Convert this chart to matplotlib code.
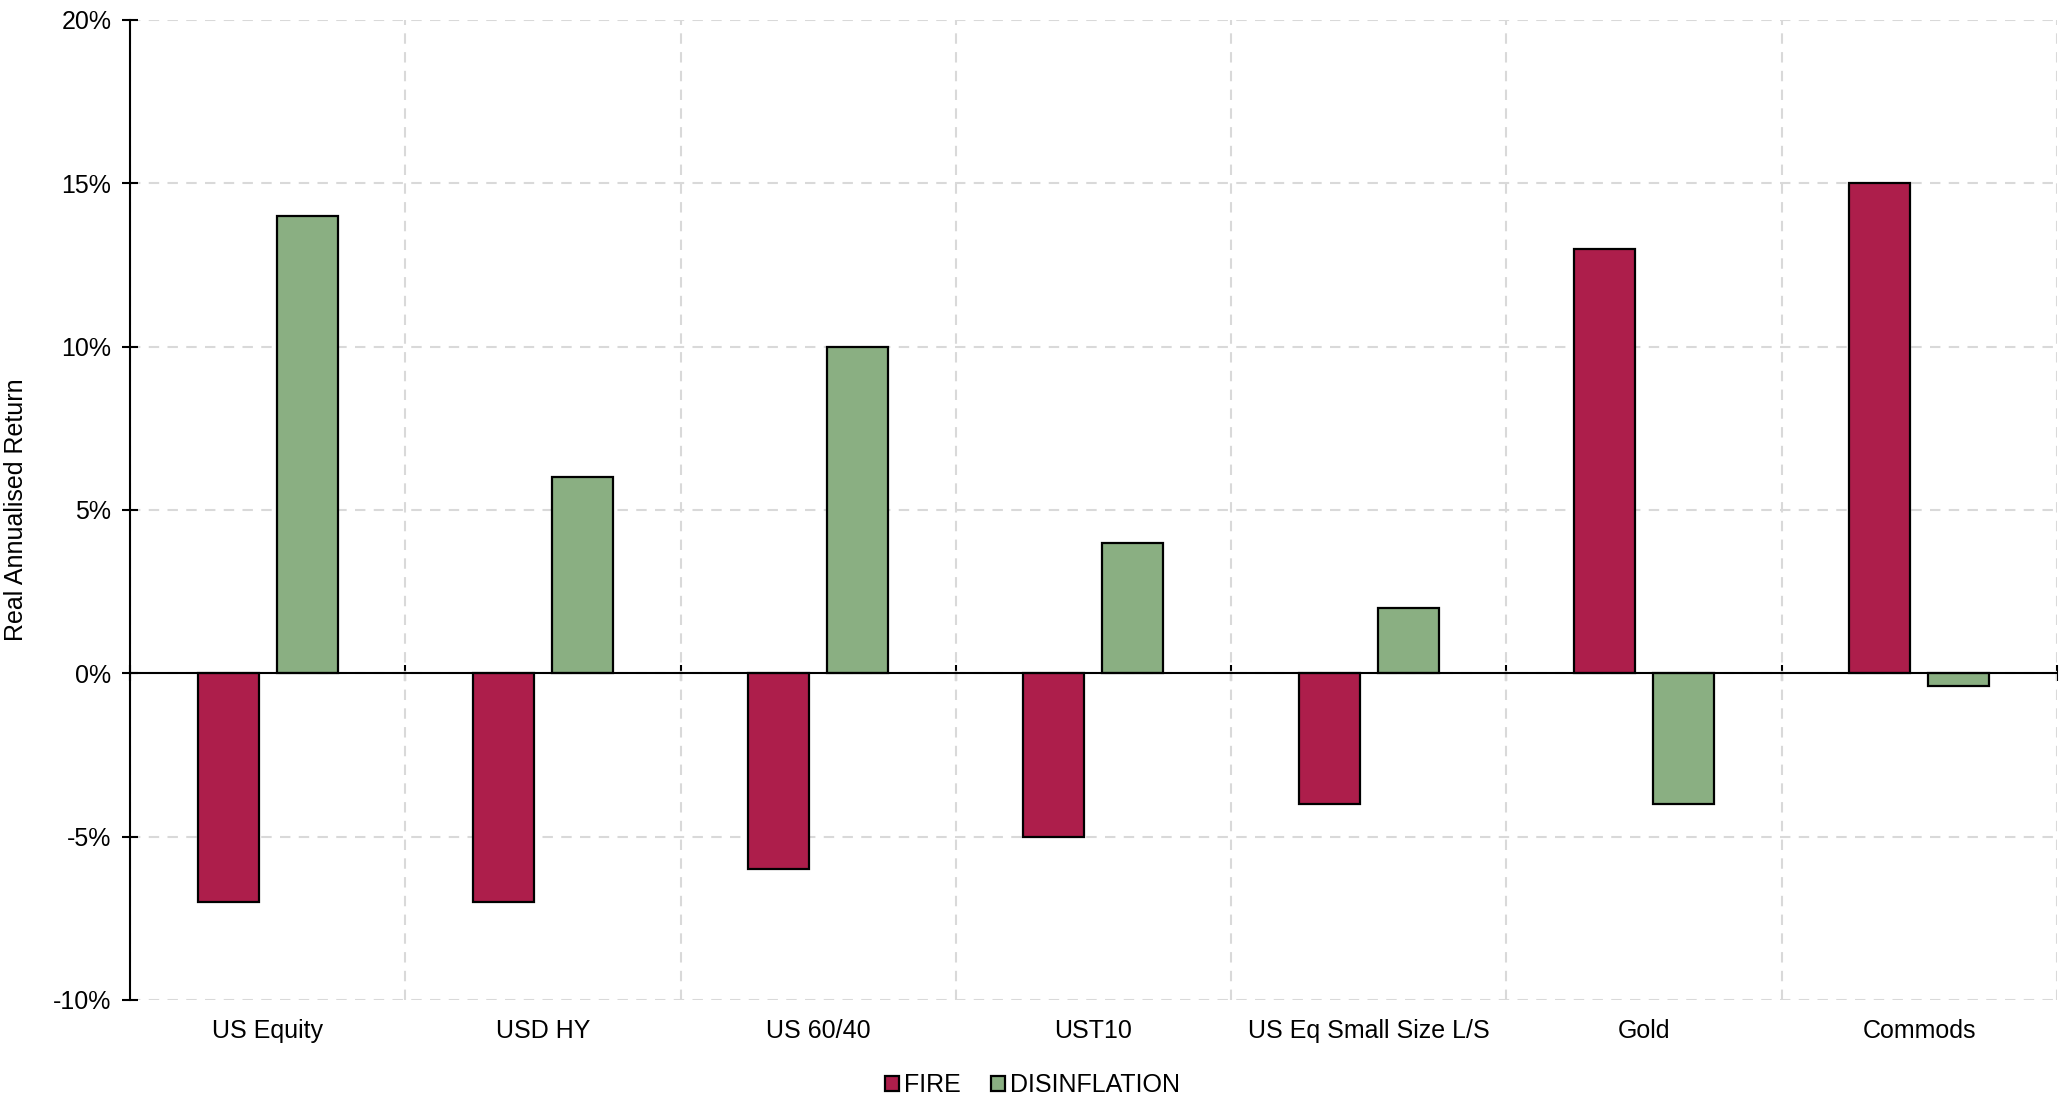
import numpy as np
import matplotlib.pyplot as plt
from matplotlib.ticker import FuncFormatter

plt.rcParams['font.family'] = ['Liberation Sans', 'DejaVu Sans']

# Real annualised returns (%) by asset class in each regime
assets = ["US Equity", "USD HY", "US 60/40", "UST10", "US Eq Small Size L/S", "Gold", "Commods"]
fire = [-7, -7, -6, -5, -4, 13, 15]
disinflation = [14, 6, 10, 4, 2, -4, -0.4]

red = "#AD1E4B"
green = "#8AAF82"
grid_col = "#D9D9D9"

fig = plt.figure(figsize=(20.65, 10.98), dpi=100)
ax = fig.add_axes([0.063, 0.0893, 0.933, 0.8925])

x = np.arange(len(assets))
w = 0.222
off = 0.1436
ax.bar(x - off, fire, w, color=red, edgecolor="black", linewidth=1.6, label="FIRE", zorder=3)
ax.bar(x + off, disinflation, w, color=green, edgecolor="black", linewidth=1.6,
       label="DISINFLATION", zorder=3)

ax.set_xlim(-0.5, len(assets) - 0.5)
ax.set_ylim(-10, 20)
ax.set_yticks(np.arange(-10, 21, 5))
ax.yaxis.set_major_formatter(FuncFormatter(lambda v, p: f"{v:.0f}%"))
ax.tick_params(axis="y", direction="inout", length=11, width=1.5, labelsize=18, pad=8)

# boundaries between categories carry the gridlines
bounds = np.arange(len(assets) + 1) - 0.5
ax.set_xticks(bounds)
ax.set_xticklabels([])
ax.set_xticks(x, minor=True)
ax.set_xticklabels(assets, minor=True)
ax.tick_params(axis="x", which="both", length=0)
ax.tick_params(axis="x", which="minor", labelsize=18, pad=14)

ax.grid(True, which="major", color=grid_col, linestyle=(0, (5, 4)), linewidth=1.5, zorder=0)

for s in ["top", "right", "bottom"]:
    ax.spines[s].set_visible(False)
ax.spines["left"].set_linewidth(1.5)

# zero line with ticks at category boundaries
ax.axhline(0, color="black", linewidth=1.5, zorder=4)
zx = ax.secondary_xaxis(0, transform=ax.transData)
zx.set_xticks(bounds)
zx.set_xticklabels([])
zx.tick_params(direction="inout", length=11, width=1.5)
zx.spines["bottom"].set_visible(False)

ax.set_ylabel("Real Annualised Return", fontsize=18, labelpad=18)

fig.legend(loc="lower center", bbox_to_anchor=(0.5, -0.02), ncol=2, frameon=False,
           fontsize=18, handlelength=0.55, handleheight=0.55, handletextpad=0.2,
           columnspacing=1.2)

fig.savefig("out.png", dpi=100)
